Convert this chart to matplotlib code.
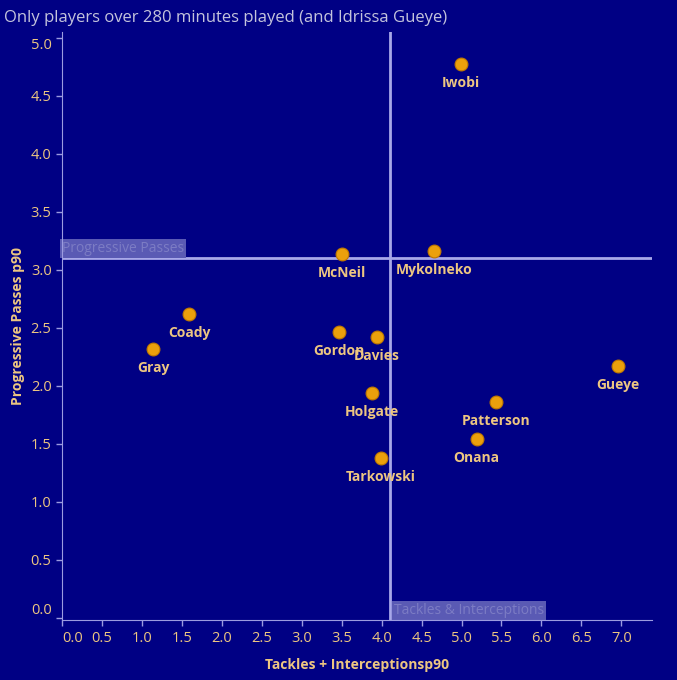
import matplotlib
matplotlib.use('Agg')
import matplotlib.pyplot as plt

players = ['Iwobi', 'McNeil', 'Mykolneko', 'Coady', 'Gray', 'Gordon', 'Davies',
           'Gueye', 'Holgate', 'Patterson', 'Onana', 'Tarkowski']
tackles_int = [4.99, 3.50, 4.66, 1.59, 1.14, 3.47, 3.94, 6.96, 3.88, 5.43, 5.19, 3.99]
prog_passes = [4.77, 3.14, 3.16, 2.62, 2.32, 2.46, 2.42, 2.17, 1.94, 1.86, 1.54, 1.38]
x_ticks = [0.0, 0.5, 1.0, 1.5, 2.0, 2.5, 3.0, 3.5, 4.0, 4.5, 5.0, 5.5, 6.0, 6.5, 7.0]
y_ticks = [0.0, 0.5, 1.0, 1.5, 2.0, 2.5, 3.0, 3.5, 4.0, 4.5, 5.0]
x_ref = 4.1
y_ref = 3.10

bg = '#000084'
tan = '#EDC681'
lav = '#9C9CE0'

plt.rcParams['font.family'] = ['Open Sans', 'DejaVu Sans']

fig = plt.figure(figsize=(6.77, 6.80), dpi=100, facecolor=bg)
ax = fig.add_axes([0.0916, 0.088, 0.871, 0.865], facecolor=bg)

ax.axvline(x_ref, color='#A8A8E8', lw=2, zorder=1)
ax.axhline(y_ref, color='#A8A8E8', lw=2, zorder=1)

ax.scatter(tackles_int, prog_passes, s=85, color='#EBA00C', edgecolor='#C07800',
           linewidth=0.8, zorder=3)
for name, x, y in zip(players, tackles_int, prog_passes):
    ax.annotate(name, (x, y), xytext=(0, -19), textcoords='offset pixels',
                ha='center', va='center', color=tan, fontsize=10,
                fontweight='bold', zorder=4)

ax.text(0.0, y_ref + 0.02, 'Progressive Passes', color='#7C7CC4', fontsize=10,
        ha='left', va='bottom', zorder=2,
        bbox=dict(boxstyle='square,pad=0.15', fc='#5A5AB4', ec='none'))
ax.text(x_ref + 0.05, 0.0, 'Tackles & Interceptions', color='#7C7CC4', fontsize=10,
        ha='left', va='bottom', zorder=2,
        bbox=dict(boxstyle='square,pad=0.15', fc='#5A5AB4', ec='none'))

ax.set_xlim(0, 7.38)
ax.set_ylim(-0.02, 5.05)
ax.set_xticks(x_ticks)
ax.set_yticks(y_ticks)
ax.set_xticklabels(['%.1f' % t for t in x_ticks])
ax.set_yticklabels(['%.1f' % t for t in y_ticks])
ax.tick_params(colors=lav, labelcolor=tan, labelsize=10.5, length=4, width=1)
ax.get_xticklabels()[0].set_horizontalalignment('left')
ax.get_yticklabels()[0].set_verticalalignment('bottom')
ax.get_yticklabels()[-1].set_verticalalignment('top')

for side in ['top', 'right']:
    ax.spines[side].set_visible(False)
for side in ['left', 'bottom']:
    ax.spines[side].set_color(lav)

ax.set_xlabel('Tackles + Interceptionsp90', color=tan, fontsize=10,
              fontweight='bold', labelpad=9)
ax.set_ylabel('Progressive Passes p90', color=tan, fontsize=10,
              fontweight='bold', labelpad=4)

fig.text(0.006, 0.986, 'Only players over 280 minutes played (and Idrissa Gueye)',
         color='#C4C4DC', fontsize=12, ha='left', va='top')

fig.savefig('out.png', dpi=100, facecolor=bg)
